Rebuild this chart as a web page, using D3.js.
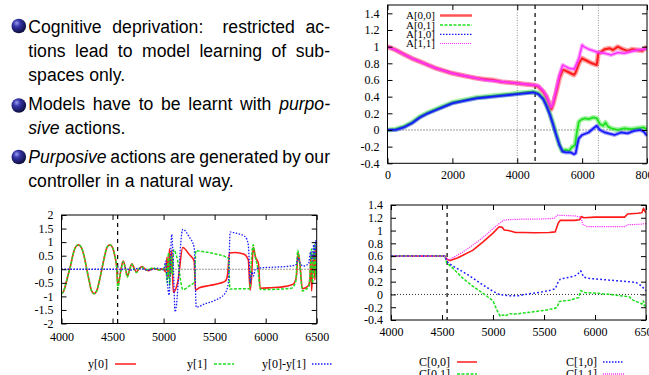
<!DOCTYPE html>
<html>
<head>
<meta charset="utf-8">
<script src="https://cdn.jsdelivr.net/npm/d3@7"></script>
<style>
  body { margin: 0; background: #fff; }
  svg { display: block; }
  .tk text { font-family: "Liberation Serif", "Times New Roman", serif; font-size: 12px; fill: #000; }
  .lg { font-family: "Liberation Serif", "Times New Roman", serif; font-size: 12px; fill: #000; }
  .lgA { font-size: 11px; }
</style>
</head>
<body>
<svg id="slide" width="649" height="375"></svg>
<script>
// ---- slide text ("_" marks italic words) ----
const bullets = [
  [["Cognitive", "deprivation:", "restricted", "ac-"],
   ["tions", "lead", "to", "model", "learning", "of", "sub-"],
   ["spaces", "only."]],
  [["Models", "have", "to", "be", "learnt", "with", "_purpo-"],
   ["_sive", "actions."]],
  [["_Purposive", "actions", "are", "generated", "by", "our"],
   ["controller", "in", "a", "natural", "way."]]
]

// ---- top chart: A matrix entries vs time step ----
const aXTicks = [0, 2000, 4000, 6000, 8000]
const aYTicks = [-0.4, -0.2, 0, 0.2, 0.4, 0.6, 0.8, 1, 1.2, 1.4]
const A00 = [[0,1.0],[250,0.96],[500,0.91],[750,0.86],[1000,0.82],[1250,0.78],[1500,0.74],[1750,0.71],
  [2000,0.68],[2250,0.66],[2500,0.64],[2750,0.62],[3000,0.61],[3250,0.6],[3500,0.58],[3750,0.57],
  [4000,0.56],[4250,0.55],[4500,0.54],[4650,0.52],[4800,0.46],[4900,0.4],[5000,0.3],[5050,0.25],
  [5120,0.33],[5200,0.45],[5300,0.62],[5400,0.72],[5500,0.71],[5600,0.69],[5750,0.66],[5800,0.69],
  [5900,0.8],[6000,0.86],[6100,0.84],[6300,0.8],[6450,0.78],[6500,0.92],[6600,0.94],[6700,0.97],
  [6850,0.98],[6950,0.96],[7100,1.0],[7250,0.97],[7400,0.95],[7550,0.97],[7700,0.96],[7850,0.95],[8000,1.0]]
const A01 = [[0,0.0],[250,0.01],[500,0.04],[750,0.09],[1000,0.16],[1250,0.21],[1500,0.25],[1750,0.29],
  [2000,0.33],[2250,0.35],[2500,0.37],[2750,0.39],[3000,0.4],[3250,0.41],[3500,0.42],[3750,0.43],
  [4000,0.44],[4250,0.45],[4500,0.46],[4650,0.44],[4800,0.38],[4900,0.3],[5000,0.2],[5100,0.08],
  [5200,-0.05],[5300,-0.18],[5380,-0.25],[5500,-0.24],[5600,-0.25],[5700,-0.2],[5780,-0.18],
  [5830,-0.05],[5900,0.1],[6000,0.13],[6100,0.14],[6200,0.13],[6350,0.15],[6450,0.14],[6550,0.07],
  [6650,0.05],[6720,0.09],[6800,0.04],[6900,0.02],[7100,0.0],[7300,0.02],[7500,0.01],[7700,0.02],
  [7900,0.03],[8000,0.01]]
const A10 = [[0,0.0],[250,0.0],[500,0.03],[750,0.08],[1000,0.15],[1250,0.2],[1500,0.24],[1750,0.28],
  [2000,0.32],[2250,0.34],[2500,0.36],[2750,0.38],[3000,0.39],[3250,0.4],[3500,0.41],[3750,0.42],
  [4000,0.43],[4250,0.44],[4500,0.45],[4650,0.43],[4800,0.37],[4900,0.29],[5000,0.19],[5100,0.07],
  [5200,-0.06],[5300,-0.18],[5400,-0.26],[5500,-0.27],[5650,-0.27],[5750,-0.29],[5800,-0.28],
  [5850,-0.18],[5900,-0.1],[6000,-0.06],[6200,-0.03],[6350,0.02],[6450,0.05],[6550,0.0],[6700,-0.03],
  [6900,-0.05],[7000,-0.06],[7200,-0.03],[7400,-0.04],[7600,-0.01],[7800,0.0],[7900,-0.02],[8000,-0.07]]
const A11 = [[0,1.0],[250,0.96],[500,0.91],[750,0.86],[1000,0.82],[1250,0.78],[1500,0.74],[1750,0.71],
  [2000,0.68],[2250,0.66],[2500,0.64],[2750,0.62],[3000,0.6],[3250,0.59],[3500,0.58],[3750,0.57],
  [4000,0.56],[4250,0.55],[4500,0.54],[4650,0.53],[4800,0.47],[4900,0.41],[5000,0.31],[5050,0.27],
  [5100,0.32],[5200,0.48],[5300,0.66],[5400,0.78],[5500,0.76],[5600,0.74],[5750,0.73],[5800,0.77],
  [5900,0.86],[6000,1.02],[6050,1.0],[6200,0.97],[6350,0.95],[6500,0.93],[6700,0.92],[6900,0.9],
  [7100,0.93],[7300,0.92],[7500,0.94],[7700,0.96],[7900,0.97],[8000,0.98]]

// ---- bottom left: y outputs ----
const yXTicks = [4000, 4500, 5000, 5500, 6000, 6500]
const yYTicks = [-2, -1.5, -1, -0.5, 0, 0.5, 1, 1.5, 2]
const ySine = [[4000,-0.9],[4020,-0.82],[4045,-0.5],[4065,-0.2],[4087,0.1],[4110,0.5],[4135,0.8],
  [4165,0.9],[4195,0.8],[4220,0.5],[4245,0.05],[4270,-0.4],[4295,-0.8],[4320,-0.9],[4345,-0.8],
  [4370,-0.45],[4395,0],[4420,0.45],[4445,0.8],[4475,0.9],[4500,0.8],[4525,0.45],[4540,0.1]]
const y0 = ySine.concat([[4552,-0.6],[4565,-0.4],[4585,0.05],[4605,0.3],[4625,0.05],[4645,-0.25],
  [4665,-0.05],[4690,0.2],[4710,0.05],[4735,-0.1],[4760,0.02],[4790,0.1],[4820,0.0],[4850,-0.05],
  [4900,0.03],[4950,-0.02],[5000,0.02],[5020,-0.1],[5035,0.45],[5045,-0.3],[5058,0.75],[5068,-0.2],
  [5080,0.7],[5095,-0.85],[5140,-0.45],[5188,0.8],[5250,0.55],[5300,0.3],[5312,-0.77],[5350,-0.68],
  [5450,-0.6],[5550,-0.52],[5610,-0.42],[5630,-0.1],[5645,0.6],[5700,0.62],[5790,0.55],[5830,0.35],
  [5848,-0.77],[5862,-0.3],[5878,0.8],[5900,0.45],[5930,0.2],[5945,-0.7],[6050,-0.68],[6200,-0.63],
  [6270,-0.55],[6300,-0.3],[6318,0.6],[6335,0.2],[6360,-0.72],[6420,-0.6],[6435,-0.3],[6442,0.5],
  [6450,-0.8],[6465,0.3],[6475,0.65],[6482,-0.4],[6490,0.8],[6500,0.4]])
const y1 = ySine.concat([[4552,-0.72],[4565,-0.45],[4585,0.0],[4605,0.28],[4625,0.05],[4645,-0.3],
  [4665,-0.05],[4690,0.18],[4710,0.0],[4735,-0.12],[4760,0.02],[4790,0.08],[4820,-0.02],[4850,0.0],
  [4900,0.05],[4950,-0.03],[5000,0.0],[5020,0.15],[5035,-0.5],[5048,0.6],[5060,-0.6],[5072,0.5],
  [5085,-0.2],[5100,0.72],[5130,0.45],[5190,-0.75],[5250,-0.62],[5305,-0.45],[5315,0.68],[5400,0.64],
  [5500,0.57],[5600,0.47],[5635,0.4],[5650,-0.73],[5750,-0.72],[5845,-0.72],[5858,0.2],[5878,0.9],
  [5895,0.5],[5920,0.1],[5950,-0.75],[6100,-0.74],[6250,-0.7],[6295,-0.45],[6315,0.7],[6332,0.3],
  [6360,-0.8],[6425,-0.62],[6440,0.2],[6450,0.75],[6458,-0.5],[6470,0.1],[6480,0.9],[6490,-0.3],[6500,0.2]])
const yDiff = [[4000,0],[4540,0],[4552,0.08],[4580,-0.03],[4620,0.04],[4680,-0.03],[4750,0.03],
  [4850,-0.03],[4950,0.04],[5000,-0.02],[5020,0.3],[5035,-0.4],[5055,-0.95],[5068,0.5],[5080,1.28],
  [5095,0.2],[5113,-1.57],[5188,1.47],[5250,1.2],[5300,0.8],[5320,-1.4],[5400,-1.28],[5500,-1.15],
  [5600,-0.9],[5635,-0.5],[5652,1.37],[5720,1.32],[5800,1.2],[5830,0.9],[5850,-0.5],[5865,-0.1],
  [5880,-0.25],[5900,0.0],[5950,0.05],[6100,0.08],[6250,0.12],[6300,0.18],[6318,0.42],[6335,0.25],
  [6370,0.12],[6420,0.2],[6440,0.65],[6455,0.3],[6470,0.9],[6480,0.4],[6490,1.05],[6500,0.6]]

// ---- bottom right: C matrix entries ----
const cXTicks = [4000, 4500, 5000, 5500, 6000, 6500]
const cYTicks = [-0.4, -0.2, 0, 0.2, 0.4, 0.6, 0.8, 1, 1.2, 1.4]
const C00 = [[4000,0.6],[4530,0.6],[4545,0.55],[4580,0.53],[4650,0.57],[4700,0.61],[4800,0.69],
  [4900,0.82],[5000,0.96],[5060,1.06],[5090,1.05],[5110,1.01],[5150,1.0],[5180,0.99],[5220,0.97],
  [5300,0.97],[5400,0.965],[5550,0.97],[5610,0.98],[5640,1.12],[5660,1.16],[5800,1.16],[5850,1.17],
  [5865,1.22],[5890,1.2],[6000,1.21],[6150,1.21],[6290,1.21],[6320,1.26],[6420,1.27],[6460,1.28],
  [6475,1.35],[6490,1.3],[6500,1.28]]
const C01 = [[4000,0.6],[4530,0.6],[4545,0.5],[4600,0.42],[4700,0.26],[4800,0.13],[4900,0.02],
  [4950,-0.04],[5000,-0.1],[5040,-0.25],[5070,-0.34],[5100,-0.32],[5120,-0.34],[5160,-0.3],
  [5200,-0.31],[5300,-0.29],[5400,-0.27],[5500,-0.25],[5600,-0.22],[5630,-0.2],[5650,-0.11],
  [5750,-0.09],[5840,-0.05],[5860,0.06],[5900,0.03],[6000,0.02],[6150,0.0],[6300,-0.03],[6340,-0.04],
  [6360,-0.08],[6420,-0.12],[6460,-0.15],[6475,-0.1],[6485,-0.18],[6500,-0.17]]
const C10 = [[4000,0.6],[4530,0.6],[4545,0.52],[4600,0.45],[4700,0.36],[4800,0.26],[4900,0.15],
  [5000,0.05],[5060,0.0],[5100,-0.01],[5150,-0.02],[5250,-0.02],[5350,0.01],[5450,0.03],[5550,0.06],
  [5610,0.09],[5640,0.2],[5660,0.24],[5750,0.27],[5820,0.3],[5860,0.37],[5890,0.27],[5950,0.25],
  [6100,0.23],[6250,0.21],[6400,0.19],[6450,0.14],[6500,0.06]]
const C11 = [[4000,0.6],[4530,0.6],[4545,0.56],[4580,0.54],[4600,0.57],[4700,0.66],[4800,0.77],
  [4900,0.89],[5000,1.03],[5100,1.16],[5150,1.17],[5300,1.18],[5450,1.18],[5600,1.19],[5630,1.24],
  [5800,1.23],[5860,1.21],[5880,1.1],[5920,1.06],[6100,1.06],[6290,1.06],[6320,1.09],[6450,1.1],[6500,1.11]]

const RED = "#ff1a1a", GREEN = "#1ee01e", BLUE = "#1a1aff", MAGENTA = "#ff33ff"
const svg = d3.select("#slide")
const defs = svg.append("defs")

// ---------- bullets + justified text ----------
const ball = defs.append("radialGradient").attr("id", "ball")
  .attr("cx", 0.38).attr("cy", 0.35).attr("r", 0.7).attr("fx", 0.35).attr("fy", 0.3)
ball.append("stop").attr("offset", 0).attr("stop-color", "#9a9af0")
ball.append("stop").attr("offset", 0.35).attr("stop-color", "#3434a8")
ball.append("stop").attr("offset", 1).attr("stop-color", "#0a0a32")

const textL = 28.3, textR = 330
const baselines = [[33, 57, 81], [110, 134], [162.5, 186.5]]
const ballY = [26, 105.5, 157]
const body = svg.append("g")
  .style("font-family", '"Liberation Sans", Arial, sans-serif').style("font-size", "17.6px")

bullets.forEach((para, pi) => {
  body.append("circle").attr("cx", 18.8).attr("cy", ballY[pi]).attr("r", 7.3).attr("fill", "url(#ball)")
  para.forEach((words, li) => {
    const last = li === para.length - 1
    const nodes = words.map(w => {
      const it = w[0] === "_"
      return body.append("text").attr("y", baselines[pi][li])
        .style("font-style", it ? "italic" : "normal").text(it ? w.slice(1) : w)
    })
    const widths = nodes.map(n => n.node().getComputedTextLength())
    const weights = words.slice(0, -1).map(w => w.endsWith(":") ? 1.8 : 1)
    const unit = last ? 5.2 : (textR - textL - d3.sum(widths)) / d3.sum(weights)
    let xp = textL
    nodes.forEach((n, i) => {
      n.attr("x", xp)
      xp += widths[i] + (i < weights.length ? unit * weights[i] : 0)
    })
  })
})

// ---------- generic gnuplot-like panel ----------
const fmt = d => String(+d.toFixed(2))

function panel(c) {
  const x = d3.scaleLinear().domain(c.xd).range([c.left, c.right])
  const y = d3.scaleLinear().domain(c.yd).range([c.bottom, c.top])
  const g = svg.append("g")

  defs.append("clipPath").attr("id", "clip-" + c.name)
    .append("rect").attr("x", c.left).attr("y", c.top)
    .attr("width", c.right - c.left).attr("height", c.bottom - c.top)

  const plot = g.append("g").attr("clip-path", `url(#clip-${c.name})`)

  plot.append("line").attr("x1", c.left).attr("x2", c.right).attr("y1", y(0)).attr("y2", y(0))
    .attr("stroke", "#000").attr("stroke-width", 0.8).attr("stroke-dasharray", "1,2")

  c.vlines.forEach(v => {
    plot.append("line").attr("x1", x(v.x)).attr("x2", x(v.x)).attr("y1", c.top).attr("y2", c.bottom)
      .attr("stroke", v.dashed ? "#000" : "#777").attr("stroke-width", v.dashed ? 1.2 : 0.8)
      .attr("stroke-dasharray", v.dashed ? "4,4" : "1,1.5")
  })

  const line = d3.line().x(d => x(d[0])).y(d => y(d[1])).curve(c.curve || d3.curveLinear)
  c.series.forEach(s => {
    if (s.band) {
      plot.append("path").attr("d", line(s.data)).attr("fill", "none")
        .attr("stroke", s.color).attr("stroke-opacity", 0.4).attr("stroke-width", s.band)
        .attr("stroke-linejoin", "round")
    }
    plot.append("path").attr("d", line(s.data)).attr("fill", "none")
      .attr("stroke", s.color).attr("stroke-width", s.w)
      .attr("stroke-dasharray", s.dash || null).attr("stroke-linejoin", "round")
  })

  const ax = (gen, tx, ty, vals, pad, labels) => {
    const a = g.append("g").attr("class", "tk").attr("transform", `translate(${tx},${ty})`)
      .call(gen.tickValues(vals).tickSizeInner(-5).tickSizeOuter(0).tickPadding(pad)
        .tickFormat(labels ? fmt : () => ""))
    a.select(".domain").remove()
    a.selectAll("line").attr("stroke", "#000").attr("stroke-width", 1)
    a.attr("font-family", null).attr("font-size", null)
  }
  ax(d3.axisBottom(x), 0, c.bottom, c.xt, c.xpad, true)
  ax(d3.axisTop(x), 0, c.top, c.xt, 0, false)
  ax(d3.axisLeft(y), c.left, 0, c.yt, c.ypad, true)
  ax(d3.axisRight(y), c.right, 0, c.yt, 0, false)

  g.append("rect").attr("x", c.left).attr("y", c.top)
    .attr("width", c.right - c.left).attr("height", c.bottom - c.top)
    .attr("fill", "none").attr("stroke", "#000").attr("stroke-width", 1)

  c.legend.forEach(l => {
    g.append("text").attr("class", "lg " + (c.legendClass || "")).attr("x", l.tx).attr("y", l.ty)
      .attr("dy", "0.35em").attr("text-anchor", "end").text(l.label)
    g.append("line").attr("x1", l.x1).attr("x2", l.x2).attr("y1", l.ty).attr("y2", l.ty)
      .attr("stroke", l.color).attr("stroke-width", l.w).attr("stroke-dasharray", l.dash || null)
  })
}

// top right: A
panel({
  name: "A", left: 387.5, right: 647, top: 5, bottom: 163.3,
  xd: [0, 8000], yd: [-0.4, 1.5], xt: aXTicks, yt: aYTicks, xpad: 7, ypad: 8,
  legendClass: "lgA",
  vlines: [{ x: 4000 }, { x: 4550, dashed: true }, { x: 6500 }],
  series: [
    { data: A00, color: RED, w: 2, band: 5 },
    { data: A01, color: GREEN, w: 1.8, band: 5 },
    { data: A10, color: BLUE, w: 1.8, band: 4 },
    { data: A11, color: MAGENTA, w: 1.6, band: 4 }
  ],
  legend: [
    { label: "A[0,0]", tx: 435, ty: 15.5, x1: 440, x2: 472, color: "#ff5555", w: 2.5 },
    { label: "A[0,1]", tx: 435, ty: 25, x1: 440, x2: 472, color: GREEN, w: 1.5, dash: "3,1.5" },
    { label: "A[1,0]", tx: 435, ty: 34.3, x1: 440, x2: 472, color: BLUE, w: 1.3, dash: "1.5,1.5" },
    { label: "A[1,1]", tx: 435, ty: 43.5, x1: 440, x2: 472, color: MAGENTA, w: 1, dash: "1,1" }
  ]
})

// bottom left: y
panel({
  name: "Y", left: 61.5, right: 316.7, top: 215, bottom: 323.5,
  xd: [4000, 6500], yd: [-2, 2], xt: yXTicks, yt: yYTicks, xpad: 9, ypad: 8,
  curve: d3.curveMonotoneX,
  vlines: [{ x: 4550, dashed: true }],
  series: [
    { data: y0, color: RED, w: 1.6 },
    { data: y1, color: GREEN, w: 1.5, dash: "3,1.5" },
    { data: yDiff, color: BLUE, w: 1.3, dash: "1.5,1.5" }
  ],
  legend: [
    { label: "y[0]", tx: 108, ty: 364, x1: 115, x2: 136, color: "#ff5555", w: 2 },
    { label: "y[1]", tx: 207, ty: 364, x1: 214, x2: 234, color: GREEN, w: 1.5, dash: "3,1.5" },
    { label: "y[0]-y[1]", tx: 306, ty: 364, x1: 312, x2: 333, color: BLUE, w: 1.3, dash: "1.5,1.5" }
  ]
})

// bottom right: C
panel({
  name: "C", left: 391, right: 646, top: 205, bottom: 320,
  xd: [4000, 6500], yd: [-0.4, 1.4], xt: cXTicks, yt: cYTicks, xpad: 7.5, ypad: 8,
  vlines: [{ x: 4550, dashed: true }],
  series: [
    { data: C00, color: RED, w: 1.6 },
    { data: C01, color: GREEN, w: 1.5, dash: "3,1.5" },
    { data: C10, color: BLUE, w: 1.5, dash: "1.8,2.2" },
    { data: C11, color: MAGENTA, w: 1.2, dash: "1.2,1" }
  ],
  legend: [
    { label: "C[0,0]", tx: 450, ty: 362, x1: 457, x2: 477, color: "#ff5555", w: 2 },
    { label: "C[0,1]", tx: 450, ty: 374, x1: 457, x2: 477, color: GREEN, w: 1.5, dash: "3,1.5" },
    { label: "C[1,0]", tx: 597, ty: 362, x1: 603, x2: 624, color: BLUE, w: 1.3, dash: "1.5,1.5" },
    { label: "C[1,1]", tx: 597, ty: 374, x1: 603, x2: 624, color: MAGENTA, w: 1.5, dash: "1,1" }
  ]
})
</script>
</body>
</html>
